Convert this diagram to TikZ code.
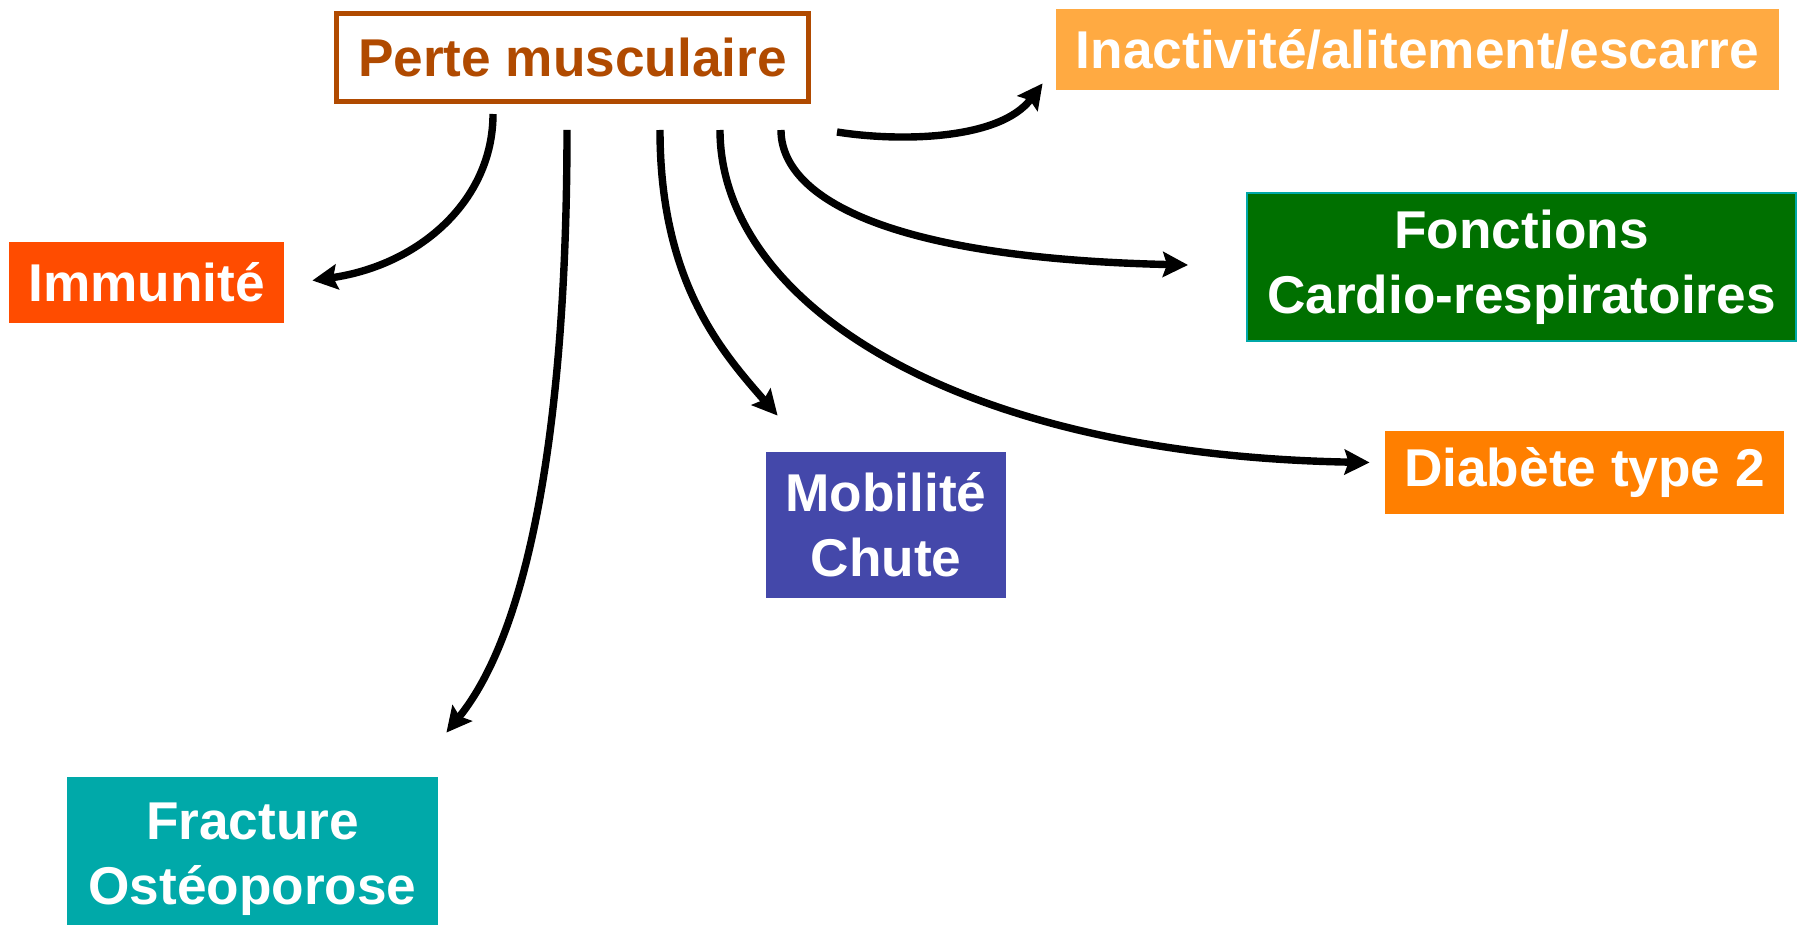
\documentclass[tikz,border=0pt]{standalone}
\usepackage{fontspec}
\setmainfont{Liberation Sans}
\usetikzlibrary{arrows.meta}

\definecolor{perteC}{HTML}{B04A00}
\definecolor{inactC}{HTML}{FFAA42}
\definecolor{fonctC}{HTML}{007000}
\definecolor{fonctB}{HTML}{00A8A8}
\definecolor{immunC}{HTML}{FF4C00}
\definecolor{mobilC}{HTML}{4448AA}
\definecolor{fractC}{HTML}{00A9A9}
\definecolor{diabC}{HTML}{FF7F00}

\begin{document}
\begin{tikzpicture}[x=0.5pt, y=-0.5pt,
    nodes = {font=\bfseries\fontsize{26.6}{32.5}\selectfont, align=center, inner sep=0pt},
    box/.style = {rectangle, fill=#1, text=white},
    link/.style = {line width=3.7pt, -{Stealth[length=12.5pt, width=12.5pt, inset=2pt]}}]
  \useasboundingbox (0,0) rectangle (1804,925);

  % Boxes
  \node[draw=perteC, line width=2.6pt, text=perteC, minimum width=236pt, minimum height=44pt]
    (perte) at (572.5,57.5) {Perte musculaire};
  \node[box=inactC, minimum width=361.5pt, minimum height=40.5pt]
    (inact) at (1417.5,49.5) {Inactivité/alitement/escarre};
  \node[box=fonctC, draw=fonctB, line width=1pt, minimum width=274.5pt, minimum height=73.5pt]
    (fonct) at (1521.5,267) {Fonctions\\Cardio-respiratoires};
  \node[box=immunC, minimum width=137.5pt, minimum height=40.5pt]
    (immun) at (146.5,282.5) {Immunité};
  \node[box=mobilC, minimum width=120pt, minimum height=73pt]
    (mobil) at (886,525) {Mobilité\\Chute};
  \node[box=fractC, minimum width=185.5pt, minimum height=82pt]
    (fract) at (252.5,859) {Fracture\\Ostéoporose};
  \node[box=diabC, minimum width=199.5pt, minimum height=41.5pt]
    (diab) at (1584.5,472.5) {Diabète type 2};

  % Free ends below the top box
  \coordinate (fromImmun) at (493,114);
  \coordinate (fromFract) at (567,130);
  \coordinate (fromMobil) at (660,130);
  \coordinate (fromDiab)  at (720,130);
  \coordinate (fromFonct) at (781,130);
  \coordinate (fromInact) at (837,132);

  % Arrows
  \draw[link] (fromImmun) .. controls (493,200) and (420,265) .. ([xshift=14pt,yshift=1pt]immun.east);
  \draw[link] (fromFract) .. controls (567,420) and (530,630) .. ([xshift=4pt,yshift=22pt]fract.north east);
  \draw[link] (fromMobil) .. controls (660,280) and (720,350) .. ([xshift=6pt,yshift=18pt]mobil.north west);
  \draw[link] (fromDiab)  .. controls (720,300) and (950,455) .. ([xshift=-7.5pt,yshift=5pt]diab.west);
  \draw[link] (fromFonct) .. controls (781,195) and (880,258) .. ([xshift=-29pt,yshift=1pt]fonct.west);
  \draw[link] (fromInact) .. controls (900,142) and (1000,140) .. ([xshift=-6.5pt,yshift=3.5pt]inact.south west);
\end{tikzpicture}
\end{document}
